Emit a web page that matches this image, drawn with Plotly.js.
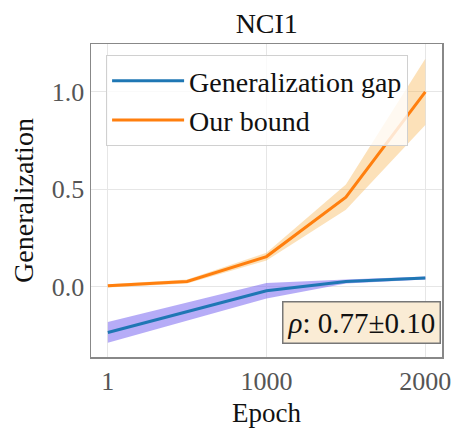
<!DOCTYPE html>
<html>
<head>
<meta charset="utf-8">
<script src="https://cdn.plot.ly/plotly-3.0.1.min.js"></script>
<style>html,body{margin:0;padding:0;background:#fff;}#chart{width:456px;height:430px;}</style>
</head>
<body>
<div id="chart"></div>
<script>
const epochs = [1, 500, 1000, 1500, 2000];
const gapMean = [-0.234, -0.127, -0.02, 0.027, 0.045];
const gapStd = [0.053, 0.045, 0.04, 0.01, 0.008];
const boundMean = [0.005, 0.027, 0.155, 0.46, 1.0];
const boundStd = [0.008, 0.01, 0.02, 0.065, 0.17];
const seriesNames = ['Generalization gap', 'Our bound'];
const xTickVals = [1, 1000, 2000];
const xTickText = ['1', '1000', '2000'];
const yTickVals = [0.0, 0.5, 1.0];
const yTickText = ['0.0', '0.5', '1.0'];
const rhoText = '<i>ρ</i>: 0.77±0.10';

const font = 'Liberation Serif, Times New Roman, serif';

function band(mean, std, color) {
  const upper = mean.map((m, i) => m + std[i]);
  const lower = mean.map((m, i) => m - std[i]);
  return {
    x: epochs.concat(epochs.slice().reverse()),
    y: upper.concat(lower.slice().reverse()),
    fill: 'toself', fillcolor: color, line: {width: 0}, mode: 'lines',
    showlegend: false, hoverinfo: 'skip'
  };
}

const traces = [
  band(gapMean, gapStd, 'rgba(110,90,240,0.5)'),
  band(boundMean, boundStd, 'rgba(247,180,80,0.4)'),
  {x: epochs, y: gapMean, mode: 'lines', name: seriesNames[0], line: {color: '#1f77b4', width: 3}},
  {x: epochs, y: boundMean, mode: 'lines', name: seriesNames[1], line: {color: '#ff7f0e', width: 3}}
];

const layout = {
  width: 456, height: 430,
  margin: {l: 91, r: 14, t: 44, b: 73},
  paper_bgcolor: '#fff', plot_bgcolor: '#fff',
  font: {family: font, size: 26, color: '#111'},
  title: {text: 'NCI1', x: 0.585, xanchor: 'center', y: 0.945, yanchor: 'middle', font: {family: font, size: 28, color: '#111'}},
  xaxis: {
    range: [-105, 2105], tickvals: xTickVals, ticktext: xTickText,
    showgrid: true, gridcolor: '#e6e6e6', gridwidth: 1,
    zeroline: false, showline: true, mirror: true, linecolor: '#888', linewidth: 1.5,
    ticks: '', tickfont: {family: font, size: 26, color: '#555'},
    title: {text: 'Epoch', font: {family: font, size: 27, color: '#111'}, standoff: 8}
  },
  yaxis: {
    range: [-0.36, 1.245], tickvals: yTickVals, ticktext: yTickText,
    showgrid: true, gridcolor: '#e6e6e6', gridwidth: 1,
    zeroline: false, showline: true, mirror: true, linecolor: '#888', linewidth: 1.5,
    ticks: '', ticklen: 0, tickfont: {family: font, size: 26, color: '#555'},
    title: {text: 'Generalization', font: {family: font, size: 28, color: '#111'}, standoff: 10}
  },
  legend: {
    x: 0.043, y: 0.965, xanchor: 'left', yanchor: 'top',
    bgcolor: 'rgba(255,255,255,0.8)', bordercolor: '#d0d0d0', borderwidth: 1,
    font: {family: font, size: 28, color: '#111'}, itemwidth: 72, tracegroupgap: 0
  },
  annotations: [{
    xref: 'paper', yref: 'paper', x: 0.998, y: 0.04, xanchor: 'right', yanchor: 'bottom',
    text: rhoText, showarrow: false,
    font: {family: font, size: 29, color: '#111'},
    bgcolor: '#faecd5', bordercolor: '#777', borderwidth: 1.5, borderpad: 4
  }],
  showlegend: true
};

Plotly.newPlot('chart', traces, layout, {staticPlot: true, displayModeBar: false});
</script>
</body>
</html>
